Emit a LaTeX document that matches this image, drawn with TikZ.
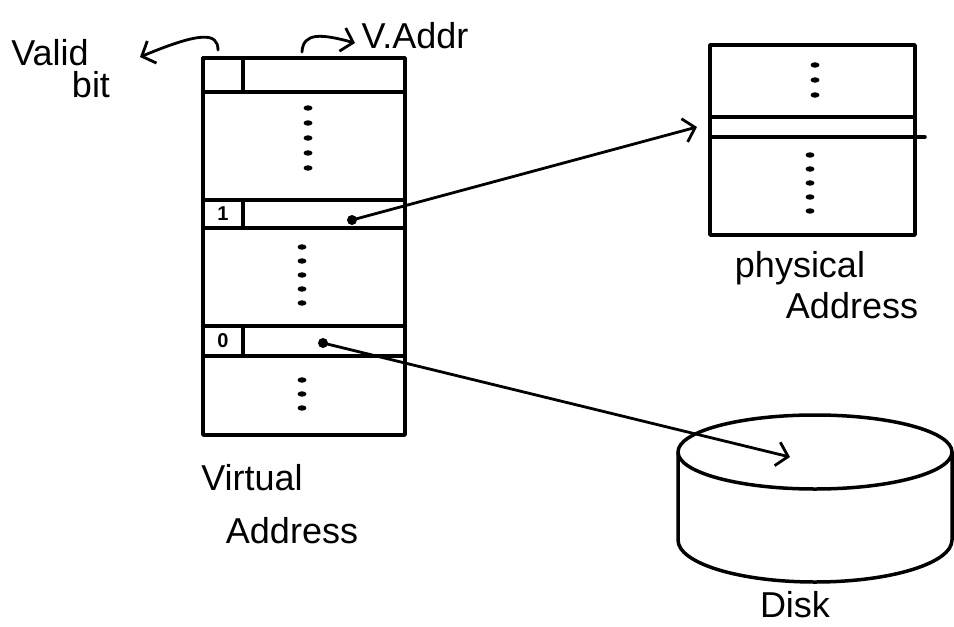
\documentclass[tikz,border=0pt]{standalone}
\usepackage{fontspec}
\setmainfont{Liberation Sans}
\usetikzlibrary{arrows.meta}
\begin{document}
\begin{tikzpicture}[x=1pt,y=-1pt,
  box/.style={draw, line width=3.5pt, line join=round, line cap=round, inner sep=0pt, outer sep=0pt},
  arr/.style={line width=2.8pt, line cap=round, -{Straight Barb[length=11pt,width=24pt,line width=2.8pt]}},
  lbl/.style={font=\fontsize{36}{40}\selectfont, inner sep=0pt, anchor=base},
  bitlbl/.style={font=\fontsize{20}{22}\selectfont\bfseries},
  dotmark/.style={fill=black}]
\useasboundingbox (0,0) rectangle (954,627);

% virtual address table
\node[box, anchor=north west, minimum width=202, minimum height=377] (vt) at (203,58) {};
\node[box, anchor=north west, minimum width=202, minimum height=34] (e0) at (203,58) {};
\node[box, anchor=north west, minimum width=40, minimum height=34] (v0) at (203,58) {};
\node[box, anchor=north west, minimum width=202, minimum height=28] (e1) at (203,200) {};
\node[box, anchor=north west, minimum width=40, minimum height=28, bitlbl] (v1) at (203,200) {1};
\node[box, anchor=north west, minimum width=202, minimum height=30] (e2) at (203,326) {};
\node[box, anchor=north west, minimum width=40, minimum height=30, bitlbl] (v2) at (203,326) {0};

\foreach \yy in {108,123,138,153,168} \fill[dotmark] (308,\yy) ellipse [x radius=4.5, y radius=2.7];
\foreach \yy in {247,261,275,289,303} \fill[dotmark] (302,\yy) ellipse [x radius=4.5, y radius=2.7];
\foreach \yy in {380,394,408} \fill[dotmark] (302,\yy) ellipse [x radius=4.5, y radius=2.7];

% physical memory
\node[box, anchor=north west, minimum width=205, minimum height=190] (pm) at (710,45) {};
\node[box, anchor=north west, minimum width=205, minimum height=20] (pf) at (710,117) {};
\draw[box] (pf.south east) -- ++(10,0);
\foreach \yy in {65,80,95} \fill[dotmark] (815,\yy) ellipse [x radius=4.5, y radius=2.7];
\foreach \yy in {155,169,183,197,211} \fill[dotmark] (810,\yy) ellipse [x radius=4.5, y radius=2.7];

% disk
\coordinate (disk) at (815,452);
\draw[box] (disk) ellipse [x radius=137, y radius=37];
\draw[box] ([xshift=-137pt]disk) -- ++(0,88) arc[start angle=180, end angle=0, x radius=137, y radius=42] -- ([xshift=137pt]disk);

% arrows
\coordinate (p1) at (352,220);
\coordinate (p2) at (323,343);
\coordinate (dtgt) at (790,457);
\fill (p1) circle (5);
\fill (p2) circle (5);
\draw[arr] (p1) -- ([xshift=-13pt]pf.west);
\draw[arr] (p2) -- (dtgt);

% label arrows
\coordinate (vbs) at (218,50);
\coordinate (vbt) at (140,57);
\coordinate (vas) at (302,52);
\coordinate (vat) at (355,43);
\draw[arr] (vbs) .. controls (218,32) and (200,32) .. (vbt);
\draw[arr] (vas) .. controls (303,32) and (322,34) .. (vat);

% labels
\node[lbl] (lvalid) at (50,65) {Valid};
\node[lbl] (lbit) at (91,97) {bit};
\node[lbl] (lvaddr) at (415,48) {V.Addr};
\node[lbl] (lvirt) at (252,490) {Virtual};
\node[lbl] (laddr1) at (292,543) {Address};
\node[lbl] (lphys) at (800,277) {physical};
\node[lbl] (laddr2) at (852,318) {Address};
\node[lbl] (ldisk) at (795,617) {Disk};
\end{tikzpicture}
\end{document}
